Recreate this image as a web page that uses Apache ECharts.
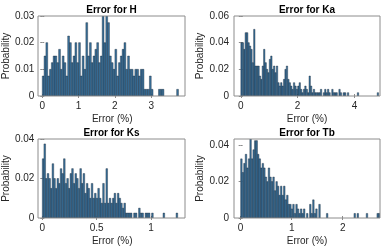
<!DOCTYPE html>
<html><head><meta charset="utf-8">
<script src="https://cdn.jsdelivr.net/npm/echarts@6/dist/echarts.min.js"></script>
<style>html,body{margin:0;padding:0;background:#fff}#c{width:391px;height:249px}</style>
</head><body><div id="c"></div>
<script>
// ---- data (probability per bin) ----
const titles = ['Error for H', 'Error for Ka', 'Error for Ks', 'Error for Tb'];
const binWidths = [0.05, 0.05, 0.015, 0.03];
const hValues = [0.0075,0.015,0.02,0.0075,0.01,0.0125,0.015,0.015,0.0125,0.0175,
0.01,0.015,0.0125,0.0075,0.0225,0.02,0.0125,0.015,0.02,0.0125,
0.02,0.0075,0.015,0.01,0.0275,0.015,0.02,0.0125,0.015,0.0175,
0.02,0.0125,0.015,0.03,0.02,0.03,0.0275,0.015,0.0125,0.01,
0.0175,0.0075,0.0125,0.015,0.0175,0.02,0.01,0.015,0.01,0.01,
0.0075,0.01,0.01,0.0075,0.01,0.01,0.0025,0.0025,0.0025,0.0075,
0.0025,0,0,0,0.0025,0.0025,0.0025,0,0,0,0,0,0,0,0.0025,0];
const kaValues = [0.04,0.04,0.035,0.0475,0.0475,0.04,0.0375,0.035,0.025,0.05,
0.0225,0.0225,0.0225,0.015,0.0125,0.0225,0.035,0.025,0.02,0.0175,
0.0275,0.03,0.02,0.0225,0.0175,0.0225,0.01,0.0075,0.01,0.0075,
0.0125,0.02,0.0225,0.0125,0.01,0.0075,0.005,0.01,0.0075,0.005,
0.0075,0.01,0.005,0.0025,0.005,0.0075,0.005,0.0025,0.015,0.0075,
0.0025,0.005,0.0025,0.0025,0.0025,0.0025,0.005,0,0.0025,0.005,
0.0025,0.005,0.0025,0,0.005,0.0025,0.0025,0.0025,0,0.005,
0.0025,0,0.0025,0.0025,0,0.0025,0,0,0,0,
0,0,0.0025,0,0,0,0,0,0,0,
0,0,0,0,0,0,0.0025,0];
const ksValues = [0.03,0.0375,0.02,0.0225,0.02,0.015,0.0275,0.02,0.015,0.02,
0.0175,0.025,0.0225,0.03,0.0175,0.02,0.015,0.0225,0.025,0.0175,
0.0225,0.02,0.015,0.025,0.0175,0.0225,0.0125,0.0175,0.015,0.01,
0.0175,0.01,0.0125,0.01,0.015,0.01,0.0075,0.0175,0.0075,0.025,
0.0075,0.01,0.0075,0.01,0.0125,0.0075,0.0125,0.01,0.0075,0.005,
0.0075,0.0025,0.0025,0.0025,0.0025,0,0.0025,0.0025,0,0.005,
0.0025,0.0025,0,0.0025,0.0025,0.0025,0,0.0025,0,0,
0,0,0,0,0.0025,0,0,0,0,0,
0,0,0.0025,0];
const tbValues = [0.0325,0.025,0.03,0.035,0.0275,0.0325,0.0434,0.0325,0.0375,0.0425,
0.0425,0.035,0.0325,0.0275,0.03,0.0275,0.0225,0.02,0.0275,0.0225,
0.02,0.0225,0.015,0.02,0.0175,0.0125,0.0175,0.0125,0.0175,0.01,
0.0125,0.0075,0.0075,0.005,0.0075,0.0025,0.0075,0.005,0.0025,0.005,
0.0025,0.005,0,0.0025,0,0.0075,0.0025,0.01,0.0025,0.005,
0,0.0075,0,0,0,0,0.0025,0,0,0,
0,0,0,0,0,0,0,0,0,0,
0,0,0,0,0.0025,0,0.0025,0,0,0,
0,0,0.0025,0,0,0,0,0,0,0.0025,0.0025];
const allValues = [hValues, kaValues, ksValues, tbValues];
const xLimits = [[-0.08, 3.93], [-0.24, 4.9], [-0.027, 1.312], [-0.13, 2.73]];
const yLimits = [[0, 0.03], [0, 0.06], [0, 0.04], [0, 0.0434]];
const xTicks = [[0,1,2,3], [0,2,4], [0,0.5,1], [0,1,2]];
const yTicks = [[0,0.01,0.02,0.03], [0,0.02,0.04,0.06], [0,0.02,0.04], [0,0.02,0.04]];
const xName = 'Error (%)';
const yName = 'Probability';

// ---- layout ----
const FONT = '"Liberation Sans", Arial, sans-serif';
const grids = [
  {left: 38, top: 16, width: 147, height: 80},
  {left: 234, top: 16, width: 146, height: 80},
  {left: 38, top: 139, width: 147, height: 79},
  {left: 234, top: 139, width: 146, height: 79}
];
const BOX = '#8c8c8c', TXT = '#262626';

const chart = echarts.init(document.getElementById('c'), null, {renderer: 'canvas'});
const xAxis = [], yAxis = [], series = [], graphic = [];
grids.forEach((g, i) => {
  const common = {gridIndex: i, type: 'value', min: xLimits[i][0], max: xLimits[i][1], splitLine: {show: false}};
  xAxis.push(Object.assign({}, common, {
    position: 'bottom',
    axisLine: {show: false},
    axisTick: {show: true, inside: true, length: 2, lineStyle: {color: BOX}, customValues: xTicks[i]},
    axisLabel: {show: true, margin: 5, fontSize: 10, fontFamily: FONT, color: TXT, customValues: xTicks[i]},
    name: xName, nameLocation: 'middle', nameGap: 18,
    nameTextStyle: {fontSize: 10, fontFamily: FONT, color: TXT}
  }));
  xAxis.push(Object.assign({}, common, {
    position: 'top',
    axisLine: {show: false},
    axisTick: {show: true, inside: true, length: 2, lineStyle: {color: BOX}, customValues: xTicks[i]},
    axisLabel: {show: false}
  }));
  const ycommon = {gridIndex: i, type: 'value', min: yLimits[i][0], max: yLimits[i][1], splitLine: {show: false}};
  yAxis.push(Object.assign({}, ycommon, {
    position: 'left',
    axisLine: {show: false},
    axisTick: {show: true, inside: true, length: 2, lineStyle: {color: BOX}, customValues: yTicks[i]},
    axisLabel: {show: true, margin: 5, fontSize: 10, fontFamily: FONT, color: TXT, customValues: yTicks[i],
      formatter: v => String(v)},
    name: yName, nameLocation: 'middle', nameGap: 24, nameRotate: 90,
    nameTextStyle: {fontSize: 10, fontFamily: FONT, color: TXT}
  }));
  yAxis.push(Object.assign({}, ycommon, {
    position: 'right',
    axisLine: {show: false},
    axisTick: {show: true, inside: true, length: 2, lineStyle: {color: BOX}, customValues: yTicks[i]},
    axisLabel: {show: false}
  }));
  const w = binWidths[i];
  series.push({
    type: 'custom',
    xAxisIndex: 2 * i, yAxisIndex: 2 * i,
    data: allValues[i].map((v, k) => [k * w, v]),
    encode: {x: 0, y: 1},
    clip: true,
    renderItem: function (params, api) {
      const x0 = api.value(0), v = api.value(1);
      if (!v) return null;
      const p0 = api.coord([x0, 0]);
      const p1 = api.coord([x0 + w, v]);
      const cs = params.coordSys;
      const shape = echarts.graphic.clipRectByRect(
        {x: p0[0], y: p1[1], width: p1[0] - p0[0], height: p0[1] - p1[1]},
        {x: cs.x, y: cs.y, width: cs.width, height: cs.height});
      if (!shape) return null;
      return {type: 'rect', shape: shape,
        style: {fill: '#3a729c', stroke: 'rgba(15,30,45,0.75)', lineWidth: 0.5}};
    }
  });
  graphic.push({
    type: 'text', x: g.left + g.width / 2, y: g.top - 6,
    style: {text: titles[i], fontSize: 10, fontWeight: 'bold', fontFamily: FONT, fill: '#000',
      align: 'center', verticalAlign: 'middle'}
  });
  graphic.push({
    type: 'rect', shape: {x: g.left, y: g.top, width: g.width, height: g.height},
    style: {fill: 'none', stroke: BOX, lineWidth: 1}, z: 100
  });
});

chart.setOption({
  animation: false,
  backgroundColor: '#fff',
  grid: grids.map(g => Object.assign({containLabel: false}, g)),
  xAxis, yAxis, series, graphic
});
</script></body></html>
